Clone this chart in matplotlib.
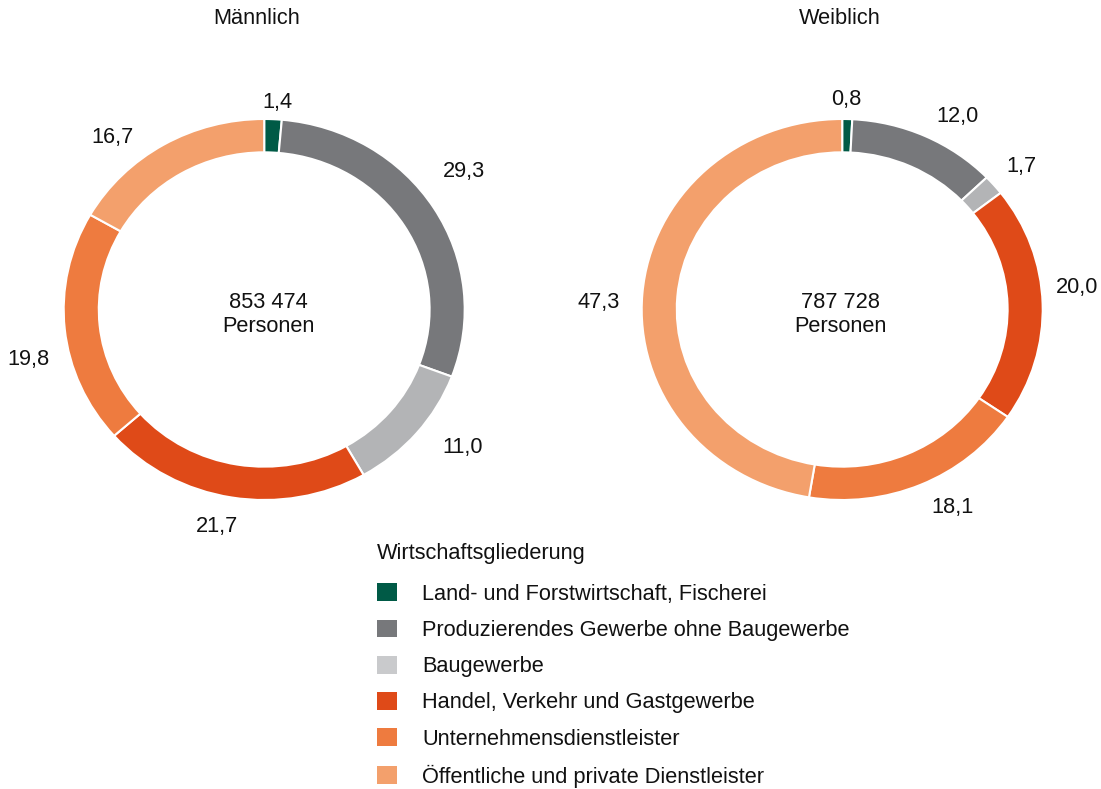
import matplotlib
matplotlib.use("Agg")
import numpy as np
import matplotlib.pyplot as plt
from matplotlib.patches import Patch

plt.rcParams['font.family'] = ['Liberation Sans', 'DejaVu Sans']

categories = [
    "Land- und Forstwirtschaft, Fischerei",
    "Produzierendes Gewerbe ohne Baugewerbe",
    "Baugewerbe",
    "Handel, Verkehr und Gastgewerbe",
    "Unternehmensdienstleister",
    "Öffentliche und private Dienstleister",
]
maennlich = [1.4, 29.3, 11.0, 21.7, 19.8, 16.7]
weiblich = [0.8, 12.0, 1.7, 20.0, 18.1, 47.3]
titles = ["Männlich", "Weiblich"]
totals = ["853 474", "787 728"]
legend_title = "Wirtschaftsgliederung"

colors = ["#005a46", "#77787b", "#b3b4b6", "#df4a18", "#ee7b3f", "#f3a06c"]
legend_colors = ["#005a46", "#77787b", "#c9cacc", "#df4a18", "#ee7b3f", "#f3a06c"]
TXT = "#111111"

# layout (pixels): donut centres, label nudges relative to wedge mid-angle anchors
W, H = 1101, 789
FS = 15.7
lim = 1.25
rx, ry = 200.5, 190.5
centers = [(264.2, 309.5), (842.2, 309.5)]
title_dx = [-8, -2]
center_dx = [4, -2]
label_dist = 1.15
label_nudges = [
    [(3, 12), (5, -21), (23, -4), (-10, 1), (-6, 28), (-36, 18)],
    [(-2, 9), (20, 6), (5, 0), (4, -15), (20, -4), (-14, 11)],
]

fig = plt.figure(figsize=(W / 100, H / 100), dpi=100)

for i, ((cx, cy), vals, title, total) in enumerate(
        zip(centers, [maennlich, weiblich], titles, totals)):
    w = 2 * lim * rx
    h = 2 * lim * ry
    ax = fig.add_axes([(cx - w / 2) / W, (H - cy - h / 2) / H, w / W, h / H])
    wedges, _ = ax.pie(
        vals, colors=colors, startangle=90, counterclock=False,
        wedgeprops=dict(width=0.175, edgecolor="white", linewidth=1.5),
    )
    ax.set_aspect("auto")
    ax.set_xlim(-lim, lim)
    ax.set_ylim(-lim, lim)
    ax.axis("off")
    for wdg, v, (ndx, ndy) in zip(wedges, vals, label_nudges[i]):
        mid = np.deg2rad((wdg.theta1 + wdg.theta2) / 2)
        ax.annotate(f"{v:.1f}".replace(".", ","),
                    xy=(label_dist * np.cos(mid), label_dist * np.sin(mid)),
                    xytext=(ndx, -ndy), textcoords="offset pixels",
                    ha="center", va="center", fontsize=FS, color=TXT,
                    annotation_clip=False)
    cdx = center_dx[i] / rx
    ax.text(cdx, 0.037, total, ha="center", va="center", fontsize=FS, color=TXT)
    ax.text(cdx, -0.089, "Personen", ha="center", va="center", fontsize=FS, color=TXT)
    fig.text((cx + title_dx[i]) / W, 1 - 19 / H, title, ha="center", va="center",
             fontsize=FS, color=TXT)

handles = [Patch(facecolor=c, edgecolor="none") for c in legend_colors]
leg = fig.legend(
    handles, categories, title=legend_title, loc="upper left",
    bbox_to_anchor=(377 / W, 1 - 543 / H), frameon=False,
    fontsize=FS, title_fontsize=FS, borderpad=0, borderaxespad=0,
    handlelength=0.92, handleheight=0.87, handletextpad=1.15,
    labelspacing=0.68, alignment="left",
)
for t in leg.get_texts():
    t.set_color(TXT)
leg.get_title().set_color(TXT)
leg._legend_box.sep = 14

fig.savefig("out.png", dpi=100)
